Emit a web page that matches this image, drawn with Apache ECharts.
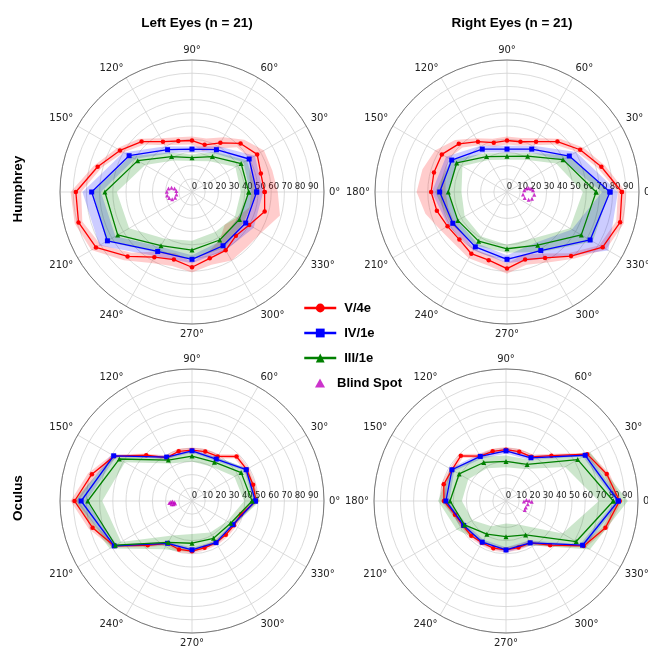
<!DOCTYPE html>
<html><head><meta charset="utf-8">
<script src="https://cdn.jsdelivr.net/npm/echarts@6/dist/echarts.min.js"></script>
<style>html,body{margin:0;padding:0;background:#fff}#c{width:648px;height:647px}</style>
</head><body><div id="c"></div>
<script>
// ---- categories / ticks ----
const angles15 = [0,15,30,45,60,75,90,105,120,135,150,165,180,195,210,225,240,255,270,285,300,315,330,345];
const angles30 = [0,30,60,90,120,150,180,210,240,270,300,330];
const seriesNames = ['V/4e','IV/1e','III/1e','Blind Spot'];
const colTitles = ['Left Eyes (n = 21)','Right Eyes (n = 21)'];
const rowTitles = ['Humphrey','Oculus'];

// ---- Left eyes, Humphrey ----
const lhRedMean   = [55,54,57,52,43,37,39,40,44,54,63,74,88,89,84,69,57,53,57,52,51,47,50,57];
const lhRedSd     = [10,9,6,4,5,5,3,3,3,3,3,3,4,3,4,4,5,5,4,5,9,12,11,12];
const lhBlueMean  = [49,50,37,32.5,37,55,76,74,52,51,47,47];
const lhBlueSd    = [5,5,3,2,3,5,7,7,4,3,4,7];
const lhGreenMean = [43,43,31,26,31,47.5,66,65,47,44,42,41.5];
const lhGreenSd   = [6,5,4,2.5,3.5,6.5,9,10,6,7,7,4];
const lhBlindX    = [-15.5,-13.2,-11.9,-11.8,-12.8,-15.0,-17.3,-18.8,-19.1,-17.8];
const lhBlindY    = [3.3,2.6,0.8,-1.8,-4.4,-5.5,-4.6,-2.6,0.2,2.6];

// ---- Right eyes, Humphrey ----
const rhRedMean   = [87,74,64,54,44,39.4,39,38.7,44,51.6,57,57.3,57.5,55,52,51,54,53.5,58,53,57.7,68.6,83.7,88.7];
const rhRedSd     = [3,3,3,3,3,3,3,3,3,4,6,9,11,9,6,5,4,4,4,4,4,3,3,3];
const rhBlueMean  = [78,54.5,37.5,32.5,37.5,48.4,51,47.4,48,51,51.2,72.7];
const rhBlueSd    = [6,6,3,2.5,3,5,6,4,3,3,7,16];
const rhGreenMean = [67.5,49,31.3,27,31,44,44.5,43,43,43,46.5,65];
const rhGreenSd   = [10,6,3,2.5,3,5,10,6,4,3,6,10];
const rhBlindX    = [13.1,14.8,16.4,18.2,19.7,20.7,18.9,16.4,13.4,12.1];
const rhBlindY    = [1.3,2.6,3.0,2.5,1.3,-2.0,-5.1,-5.8,-4.5,-1.8];

// ---- Left eyes, Oculus ----
const loRedMean   = [48.5,47.9,47.8,47.7,39,38.8,38.5,39,38,49,68,78.5,89,78,68,47.5,37,38,38,36.7,36.5,36.2,36.7,38.5];
const loRedSd     = [2,2,2,2,2,2,2,2,2,2,2,3,3,3,2,2,2,2,2,2,2,2,2,2];
const loBlueMean  = [48,47.4,36.7,38,38.4,68.5,84,68,37,37,36.4,35.8];
const loBlueSd    = [1.5,1.5,1.5,1.5,1.5,2,4,2,1.5,1.5,1.5,1.5];
const loGreenMean = [45.5,43,34,34,35.8,63.6,79,67,36.2,32,32.6,33.8];
const loGreenSd   = [6,6,4,4,3,5,11,5,6,7,5,3];
const loBlindX    = [-17.2,-16.0,-14.8,-13.5,-12.8,-14.0,-15.5];
const loBlindY    = [-1.6,-0.8,-0.4,-1.0,-1.8,-2.4,-2.4];

// ---- Right eyes, Oculus ----
const roRedMean   = [86,79,71,48.6,38.6,38.7,38.9,39,39.3,48.4,47.3,48.8,47,40,37.5,37.2,36.5,37,37.1,36.5,36.6,47.3,68,78];
const roRedSd     = [2,2,2,2,2,2,2,2,2,2,2,2,2.5,2,2,2,2,2,2,2,2,2,2,2];
const roBlueMean  = [85,69.3,37.8,38,39,47.3,45.5,37,36,37.1,36.6,67];
const roBlueSd    = [2,2,2,2,2,2,2.5,2,2,2,2,2];
const roGreenMean = [81.3,62.7,32,30,33.7,41,42.4,36.3,29,27,29.7,61.4];
const roGreenSd   = [11,11,4,4.5,5,8,9,7,7,10,9,12];
const roBlindX    = [13.6,15.5,17.5,19.5,16.5,15.0,14.2];
const roBlindY    = [-0.4,0.8,0.2,-0.5,-2.5,-5.0,-6.8];

// ---- layout / style ----
const R = 132;
const panels = [
  {center:[192,192], left:true,  red:[lhRedMean,lhRedSd], blue:[lhBlueMean,lhBlueSd], green:[lhGreenMean,lhGreenSd], bx:lhBlindX, by:lhBlindY},
  {center:[507,192], left:false, red:[rhRedMean,rhRedSd], blue:[rhBlueMean,rhBlueSd], green:[rhGreenMean,rhGreenSd], bx:rhBlindX, by:rhBlindY},
  {center:[192,501], left:true,  red:[loRedMean,loRedSd], blue:[loBlueMean,loBlueSd], green:[loGreenMean,loGreenSd], bx:loBlindX, by:loBlindY},
  {center:[506,501], left:false, red:[roRedMean,roRedSd], blue:[roBlueMean,roBlueSd], green:[roGreenMean,roGreenSd], bx:roBlindX, by:roBlindY}
];
const RED='#ff0000', BLUE='#0000ff', GREEN='#008000', MAG='#bf00bf';
const TICKFONT='"DejaVu Sans", sans-serif';
const BOLDFONT='"Liberation Sans", Arial, sans-serif';
const GRID='#d2d2d2';

function lineData(angles, mean){
  const d = angles.map((a,i)=>[mean[i], a]);
  d.push([mean[0], 360]);
  return d;
}
function band(p, angles, mean, sd, fill){
  return {
    type:'custom', coordinateSystem:'polar', polarIndex:p, silent:true, z:2,
    data:[[0,0]],
    renderItem:function(params, api){
      const up = angles.map((a,i)=>api.coord([mean[i]+sd[i], a]));
      const lo = angles.map((a,i)=>api.coord([Math.max(0, mean[i]-sd[i]), a]));
      const pts = up.concat([up[0], lo[0]], lo.slice(1).reverse(), [lo[0]]);
      return {type:'polygon', shape:{points:pts}, style:{fill:fill, stroke:null}};
    }
  };
}

const polar=[], angleAxis=[], radiusAxis=[], series=[];
panels.forEach((pn,p)=>{
  polar.push({center:pn.center, radius:R});
  angleAxis.push({
    polarIndex:p, type:'value', min:0, max:360, interval:30, startAngle:0, clockwise:false,
    axisLine:{show:true, lineStyle:{color:'#7a7a7a', width:1}},
    axisTick:{show:false},
    axisLabel:{show:true, margin:5, fontSize:10, fontFamily:TICKFONT, color:'#222',
      formatter:v=> (v===360 || (pn.left && v===180)) ? '' : v+'°'},
    splitLine:{show:true, lineStyle:{color:GRID, width:0.8}}
  });
  radiusAxis.push({
    polarIndex:p, type:'value', min:0, max:100, interval:10,
    axisLine:{show:false}, axisTick:{show:false},
    axisLabel:{show:true, margin:1, fontSize:8.5, fontFamily:TICKFONT, color:'#222', padding:[0,0,0,5],
      formatter:v=> v===100 ? '' : String(v)},
    splitLine:{show:true, lineStyle:{color:GRID, width:0.8}}
  });
  series.push(band(p, angles15, pn.red[0], pn.red[1], 'rgba(255,0,0,0.2)'));
  series.push(band(p, angles30, pn.blue[0], pn.blue[1], 'rgba(0,0,255,0.2)'));
  series.push(band(p, angles30, pn.green[0], pn.green[1], 'rgba(0,128,0,0.2)'));
  series.push({type:'line', name:seriesNames[0], coordinateSystem:'polar', polarIndex:p, z:3, silent:true,
    data:lineData(angles15, pn.red[0]), symbol:'circle', symbolSize:4.5, showSymbol:true,
    lineStyle:{color:RED, width:1.3}, itemStyle:{color:RED}});
  series.push({type:'line', name:seriesNames[1], coordinateSystem:'polar', polarIndex:p, z:4, silent:true,
    data:lineData(angles30, pn.blue[0]), symbol:'rect', symbolSize:5, showSymbol:true,
    lineStyle:{color:BLUE, width:1.3}, itemStyle:{color:BLUE}});
  series.push({type:'line', name:seriesNames[2], coordinateSystem:'polar', polarIndex:p, z:5, silent:true,
    data:lineData(angles30, pn.green[0]), symbol:'triangle', symbolSize:5, showSymbol:true,
    lineStyle:{color:GREEN, width:1.3}, itemStyle:{color:GREEN}});
  series.push({type:'scatter', name:seriesNames[3], coordinateSystem:'polar', polarIndex:p, z:6, silent:true,
    data:pn.bx.map((x,i)=>{
      const y=pn.by[i]; let a=Math.atan2(y,x)*180/Math.PI; if(a<0)a+=360;
      return [Math.hypot(x,y), a];
    }),
    symbol:'triangle', symbolSize:4, itemStyle:{color:MAG}});
});

const chart = echarts.init(document.getElementById('c'), null, {renderer:'canvas'});
chart.setOption({
  animation:false,
  backgroundColor:'#fff',
  title:[
    {text:colTitles[0], left:192, top:11, textAlign:'center',
      textStyle:{fontSize:13.5, fontWeight:'bold', fontFamily:BOLDFONT, color:'#000'}},
    {text:colTitles[1], left:507, top:11, textAlign:'center',
      textStyle:{fontSize:13.5, fontWeight:'bold', fontFamily:BOLDFONT, color:'#000'}}
  ],
  legend:[
    {data:seriesNames.slice(0,3), orient:'vertical', left:298, top:296, itemWidth:32, itemHeight:11, itemGap:11,
      selectedMode:false, lineStyle:{width:2.5},
      textStyle:{fontSize:13, fontWeight:'bold', fontFamily:BOLDFONT, color:'#000', lineHeight:14, padding:[0,0,0,3]}},
    {data:[seriesNames[3]], orient:'vertical', left:310, top:371, itemWidth:10, itemHeight:9, icon:'triangle',
      selectedMode:false,
      textStyle:{fontSize:13, fontWeight:'bold', fontFamily:BOLDFONT, color:'#000', lineHeight:14, padding:[0,0,0,7]}}
  ],
  graphic:[
    {type:'text', x:18, y:189, rotation:Math.PI/2,
      style:{text:rowTitles[0], font:'bold 13.5px '+BOLDFONT, fill:'#000', textAlign:'center', textVerticalAlign:'middle'}},
    {type:'text', x:18, y:498, rotation:Math.PI/2,
      style:{text:rowTitles[1], font:'bold 13.5px '+BOLDFONT, fill:'#000', textAlign:'center', textVerticalAlign:'middle'}}
  ],
  polar:polar, angleAxis:angleAxis, radiusAxis:radiusAxis, series:series
});
</script></body></html>
